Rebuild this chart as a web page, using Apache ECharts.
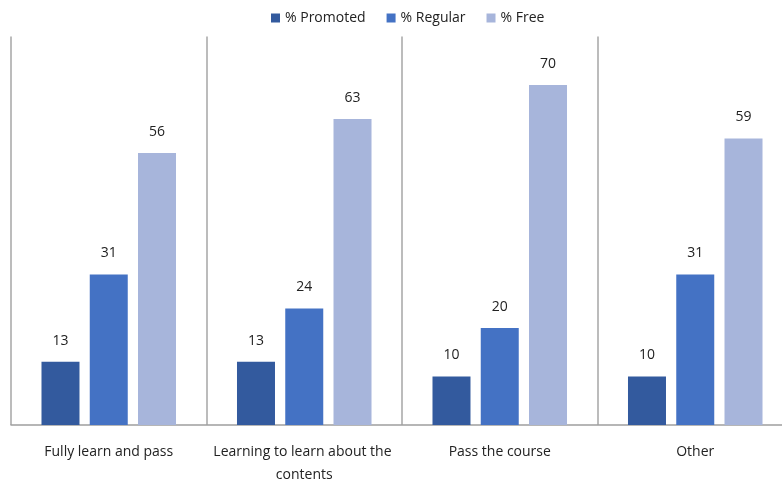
<!DOCTYPE html>
<html>
<head>
<meta charset="utf-8">
<script src="https://cdn.jsdelivr.net/npm/echarts@6/dist/echarts.min.js"></script>
<style>html,body{margin:0;padding:0;background:#fff;}#c{width:782px;height:480px;}</style>
</head>
<body>
<div id="c"></div>
<script>
const categories = ['Fully learn and pass', 'Learning to learn about the contents', 'Pass the course', 'Other'];
const promoted = [13, 13, 10, 10];
const regular = [31, 24, 20, 31];
const free = [56, 63, 70, 59];
const seriesNames = ['% Promoted', '% Regular', '% Free'];
const colors = ['#335A9E', '#4472C4', '#A7B5DB'];

const chart = echarts.init(document.getElementById('c'));
const font = '"Open Sans", "Noto Sans", sans-serif';
const mk = (name, data, color) => ({
  name, type: 'bar', data, barWidth: 38, barGap: '27%',
  itemStyle: { color },
  label: { show: true, position: 'top', distance: 14, color: '#222', fontSize: 14, fontFamily: font }
});
chart.setOption({
  animation: false,
  color: colors,
  legend: {
    top: 6, left: 266, itemWidth: 9, itemHeight: 9, itemGap: 21,
    icon: 'rect',
    textStyle: { fontSize: 14, color: '#222', fontFamily: font }
  },
  grid: { left: 11, top: 36.5, width: 782, height: 388.5, containLabel: false, outerBoundsMode: 'none' },
  xAxis: {
    type: 'category', data: categories,
    axisLine: { lineStyle: { color: '#9e9e9e', width: 1.5 } },
    axisTick: { show: false },
    splitLine: { show: true, interval: 0, lineStyle: { color: '#a6a6a6', width: 1.5 } },
    axisLabel: { interval: 0, margin: 16, fontSize: 14, color: '#222', fontFamily: font,
      width: 192, overflow: 'break', lineHeight: 23 }
  },
  yAxis: {
    type: 'value', min: 0, max: 80, interval: 10,
    show: false, splitLine: { show: false }
  },
  series: [mk(seriesNames[0], promoted, colors[0]), mk(seriesNames[1], regular, colors[1]), mk(seriesNames[2], free, colors[2])]
});
</script>
</body>
</html>
